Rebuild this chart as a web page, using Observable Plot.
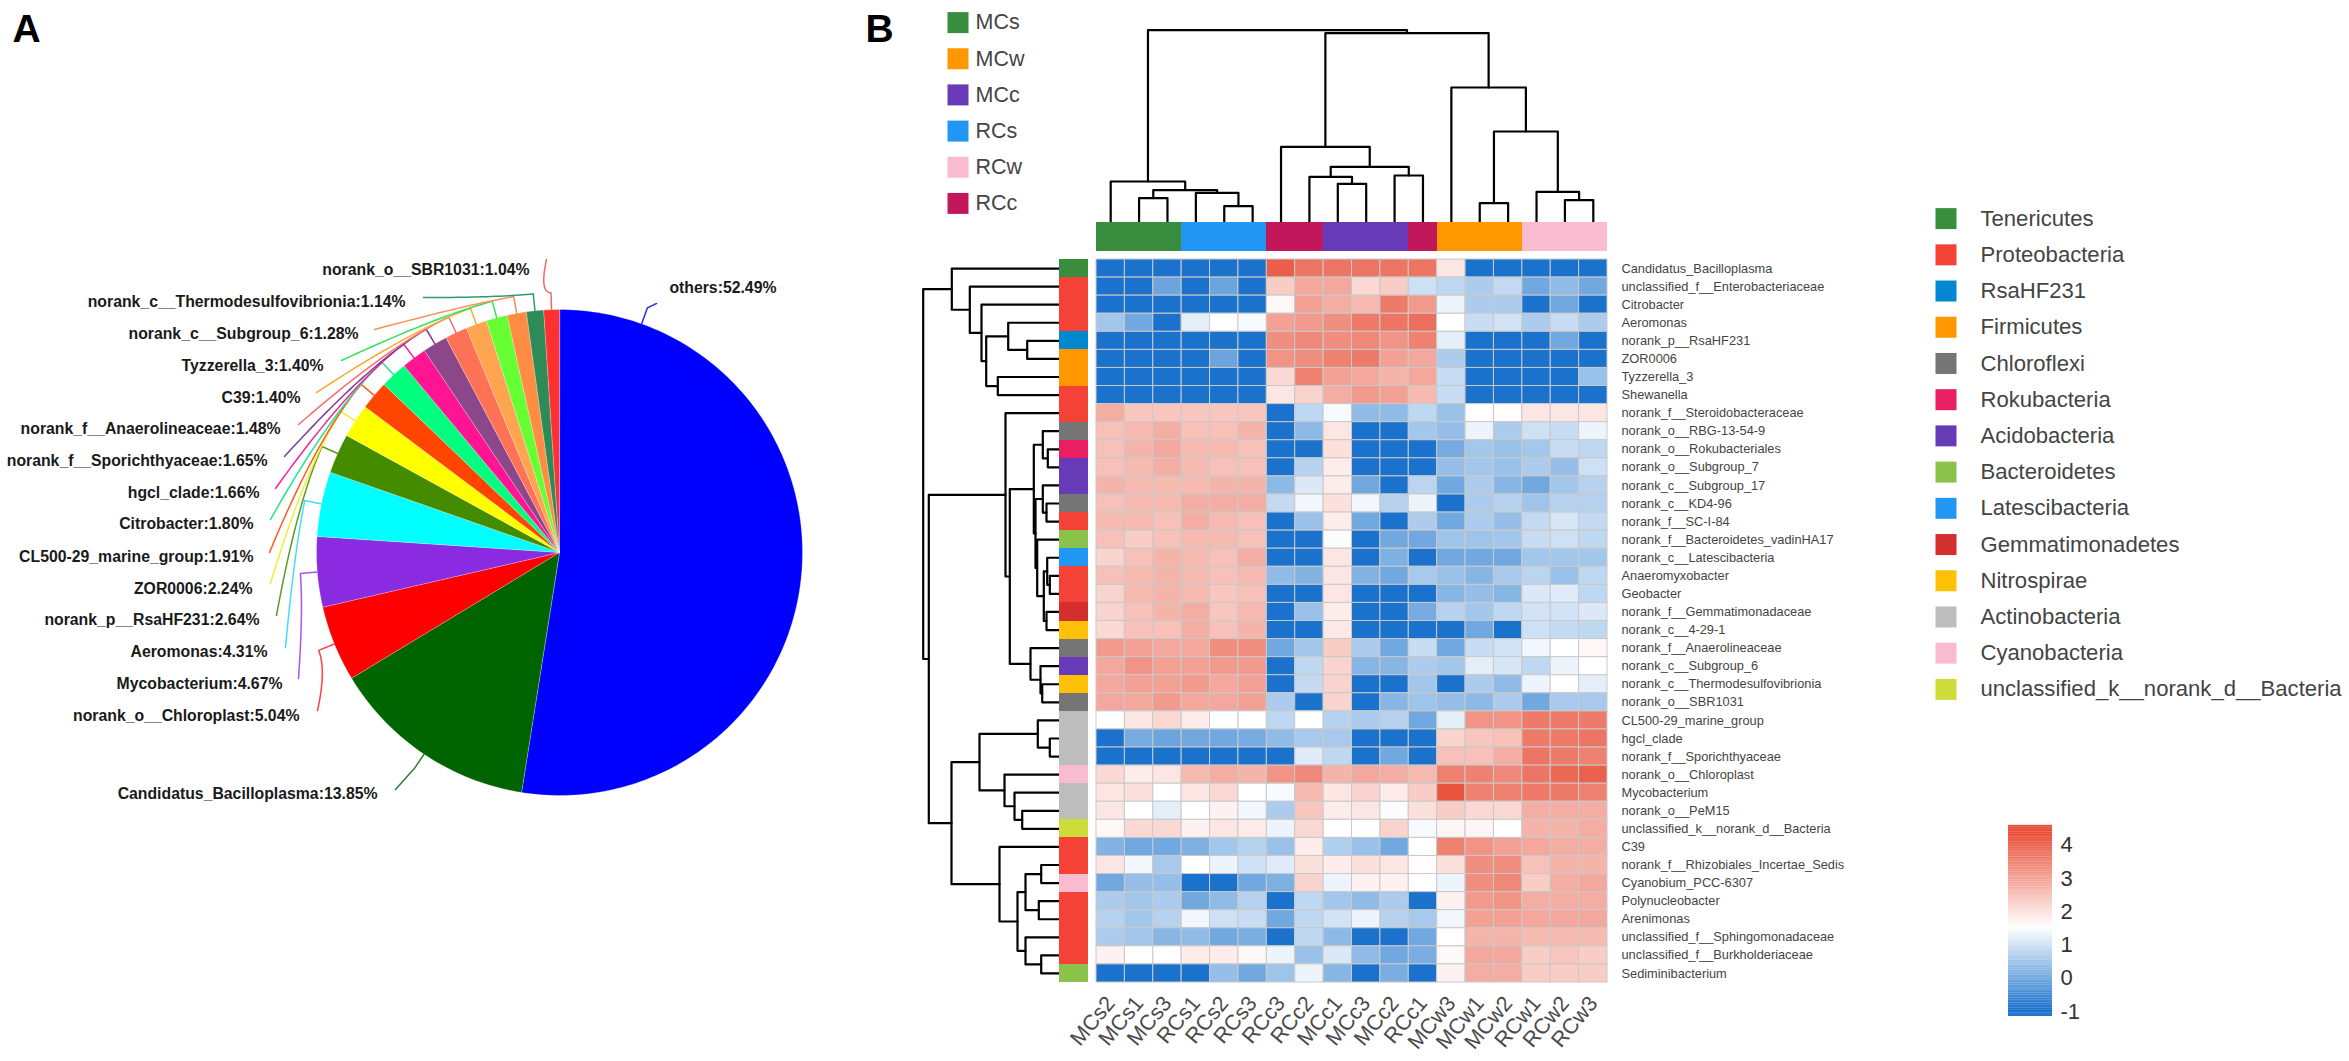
<!DOCTYPE html>
<html><head><meta charset="utf-8">
<script src="https://cdn.jsdelivr.net/npm/d3@7"></script>
<script src="https://cdn.jsdelivr.net/npm/@observablehq/plot@0.6"></script>
<style>
html,body{margin:0;padding:0;background:#fff}
#fig{position:relative;width:2349px;height:1061px;overflow:hidden;background:#fff}
#fig svg{position:absolute;background:transparent;overflow:visible}
</style></head><body><div id="fig"></div>
<script>
// ---------- panel A data ----------
const pieNames = ["others","Candidatus_Bacilloplasma","norank_o__Chloroplast","Mycobacterium","Aeromonas","norank_p__RsaHF231","ZOR0006","CL500-29_marine_group","Citrobacter","hgcl_clade","norank_f__Sporichthyaceae","norank_f__Anaerolineaceae","C39","Tyzzerella_3","norank_c__Subgroup_6","norank_c__Thermodesulfovibrionia","norank_o__SBR1031"];
const pieValues = [52.49,13.85,5.04,4.67,4.31,2.64,2.24,1.91,1.80,1.66,1.65,1.48,1.40,1.40,1.28,1.14,1.04];
const pieColors = ["#0000ff","#006400","#ff0000","#8a2be2","#00ffff","#458b00","#ffff00","#ff4500","#00ff7f","#ff1493","#8b4789","#ff7256","#ffa54f","#66ff33","#ff8c42","#2e8b57","#ff3030"];
const leaderColors = ["#2b2bee","#2e7d32","#ff4040","#a855f7","#40e0f0","#5f9a1f","#f2f030","#ff5a20","#20e88a","#ff1f9a","#7b3f91","#f47070","#f5ad35","#35e060","#f79055","#2e9b6f","#f06a6a"];
// label layout: right end of text, baseline row, end of leader line
const labelEndX = [776,377,299,282,267,259,252,253,253,259,267,280,300,323,358,405,529];
const labelY    = [287,793,715,683,651,619,588,556,523,492,460,428,397,365,333,301,269];
const leaderEndX= [656,395,317,298,285,276,270,269,270,275,284,298,316,341,374,423,546];
const leaderEndY= [303,789,710,678,647,615,583,552,519,488,456,424,392,360,329,297,259];

// ---------- panel B data ----------
const samples = ["MCs2","MCs1","MCs3","RCs1","RCs2","RCs3","RCc3","RCc2","MCc1","MCc3","MCc2","RCc1","MCw3","MCw1","MCw2","RCw1","RCw2","RCw3"];
const sampleGroup = ["MCs","MCs","MCs","RCs","RCs","RCs","RCc","RCc","MCc","MCc","MCc","RCc","MCw","MCw","MCw","RCw","RCw","RCw"];
const groupNames = ["MCs","MCw","MCc","RCs","RCw","RCc"];
const groupColors = ["#388e3c","#ff9800","#673ab7","#2196f3","#f8bbd0","#c2185b"];
const taxa = ["Candidatus_Bacilloplasma","unclassified_f__Enterobacteriaceae","Citrobacter","Aeromonas","norank_p__RsaHF231","ZOR0006","Tyzzerella_3","Shewanella","norank_f__Steroidobacteraceae","norank_o__RBG-13-54-9","norank_o__Rokubacteriales","norank_o__Subgroup_7","norank_c__Subgroup_17","norank_c__KD4-96","norank_f__SC-I-84","norank_f__Bacteroidetes_vadinHA17","norank_c__Latescibacteria","Anaeromyxobacter","Geobacter","norank_f__Gemmatimonadaceae","norank_c__4-29-1","norank_f__Anaerolineaceae","norank_c__Subgroup_6","norank_c__Thermodesulfovibrionia","norank_o__SBR1031","CL500-29_marine_group","hgcl_clade","norank_f__Sporichthyaceae","norank_o__Chloroplast","Mycobacterium","norank_o__PeM15","unclassified_k__norank_d__Bacteria","C39","norank_f__Rhizobiales_Incertae_Sedis","Cyanobium_PCC-6307","Polynucleobacter","Arenimonas","unclassified_f__Sphingomonadaceae","unclassified_f__Burkholderiaceae","Sediminibacterium"];
const phylumNames = ["Tenericutes","Proteobacteria","RsaHF231","Firmicutes","Chloroflexi","Rokubacteria","Acidobacteria","Bacteroidetes","Latescibacteria","Gemmatimonadetes","Nitrospirae","Actinobacteria","Cyanobacteria","unclassified_k__norank_d__Bacteria"];
const phylumColors = ["#388e3c","#f44336","#0288d1","#ff9800","#757575","#e91e63","#673ab7","#8bc34a","#2196f3","#d32f2f","#ffc107","#bdbdbd","#f8bbd0","#cddc39"];
const taxaPhylum = [0,1,1,1,2,3,3,1,1,4,5,6,6,4,1,7,8,1,1,9,10,4,6,10,4,11,11,11,12,11,11,13,1,1,12,1,1,1,1,7];
const heat = [
[-1,-1,-1,-1,-1,-1,4.05,3.7,3.7,3.7,3.7,3.7,1.9,-1,-1,-1,-1,-1],
[-1,-1,-0.1,-1,-0.1,-1,2.3,2.9,2.9,2.1,2.3,0.95,0.8,0.6,0.85,-0.05,0.3,-0.05],
[-1,-1,-1,-1,-1,-1,1.6,3.0,2.8,2.6,3.6,3.1,1.3,0.6,0.6,-1,-0.05,-1],
[0.5,-0.05,-1,1.2,1.5,1.4,3.0,3.1,3.3,3.6,3.7,3.8,1.5,0.9,1.0,0.6,0.9,0.6],
[-1,-1,-1,-1,-1,-1,3.3,3.4,3.3,3.4,3.2,3.5,1.2,-1,-1,-1,-0.05,-1],
[-1,-1,-1,-1,-0.1,-1,3.2,3.3,3.5,3.6,3.0,2.9,0.6,-1,-1,-1,-1,-1],
[-1,-1,-1,-1,-1,-1,2.1,3.5,3.0,2.9,2.7,2.9,0.9,-1,-1,-1,-1,0.4],
[-1,-1,-1,-1,-1,-1,1.9,2.2,2.8,3.1,3.0,2.6,0.9,-1,-1,-1,-1,-1],
[2.8,2.4,2.4,2.4,2.4,2.4,-1,0.8,1.4,0.3,0.3,0.8,0.4,1.5,1.55,1.9,1.9,1.9],
[2.5,2.6,2.8,2.5,2.5,2.7,-1,0.25,1.9,-1,-1,0.5,0.35,1.3,0.6,0.95,0.9,1.3],
[2.5,2.7,2.9,2.6,2.6,2.5,-1,-1,2.0,-1,-1,-1,0,0.5,0.4,0.5,0.9,0.8],
[2.5,2.6,2.8,2.6,2.5,2.5,-1,0.7,1.8,-1,-1,-1,0.35,0.5,0.4,0.6,0.35,0.95],
[2.7,2.6,2.6,2.6,2.7,2.7,0.25,1.1,1.8,-0.05,-1,0.75,-0.05,0.6,0.2,-0.05,0.5,0.7],
[2.5,2.6,2.6,2.8,2.8,2.8,0.85,1.35,2.0,1.35,0.7,1.3,-1,0.6,0.7,0.45,0.7,0.7],
[2.6,2.6,2.5,2.8,2.6,2.5,-1,0.4,1.8,-0.05,-1,0.6,-0.05,0.6,0.35,0.85,1.05,0.85],
[2.5,2.3,2.5,2.6,2.6,2.5,-1,-1,1.45,-1,-0.05,-0.05,0.45,0.45,0.5,0.9,0.95,0.8],
[2.2,2.5,2.7,2.6,2.5,2.8,-1,-1,1.9,-1,0.1,-1,-0.05,-0.05,-0.05,0.5,0.5,0.5],
[2.5,2.6,2.7,2.6,2.5,2.6,0.3,0.15,1.9,0.15,-0.05,0.55,0.4,0.2,0.55,0.75,0.4,0.8],
[2.2,2.6,2.7,2.6,2.4,2.5,-1,-1,1.9,-1,-1,-1,0.2,0.35,0.2,1.1,1.15,0.8],
[2.2,2.5,2.7,2.8,2.4,2.6,-1,0.4,1.8,-1,-1,0,0.7,0.5,0.8,1.0,1.0,1.1],
[2.1,2.5,2.5,2.8,2.5,2.7,-1,-1,1.85,-1,-1,-1,-1,-0.05,-1,0.95,0.85,0.8],
[3.1,3.0,2.9,2.9,3.3,3.3,-0.05,0.5,2.3,0.6,-0.05,0.9,-0.05,0.9,1.0,1.35,1.5,1.6],
[2.9,3.2,3.0,3.0,3.1,3.1,-1,0.8,2.2,0.2,0.2,0.6,0.5,1.2,1.05,0.8,1.3,1.5],
[2.9,3.0,3.0,3.1,2.9,3.0,-1,0.85,2.2,-1,-1,0.5,-1,0.6,0.3,1.3,1.5,1.2],
[2.9,2.9,3.1,2.9,2.9,3.0,0.6,-1,2.2,-1,0.2,0.45,0.35,0.25,0.6,-0.05,0.55,0.55],
[1.5,1.9,2.1,1.8,1.5,1.5,0.8,1.5,0.7,0.6,0.7,-0.05,1.2,3.2,3.2,3.6,3.6,3.6],
[-1,0,-0.1,-0.05,-0.05,0,0.3,0.55,0.55,-1,-1,-1,2.2,2.4,2.5,3.6,3.6,3.7],
[-1,-1,-1,-1,-1,-1,-1,1.15,0.8,-1,-0.05,-1,2.5,2.5,2.8,3.7,3.6,3.5],
[2.1,1.8,1.9,2.6,2.8,2.7,3.2,3.4,2.7,2.9,2.8,2.6,3.5,3.5,3.4,3.7,3.9,4.0],
[1.9,2.0,1.5,1.9,2.1,1.5,1.4,2.6,1.9,2.2,1.8,2.3,4.2,3.5,3.5,3.6,3.6,3.5],
[1.9,1.5,1.2,1.5,1.7,1.35,0.6,2.4,1.8,1.9,1.45,2.0,2.3,2.1,2.1,2.8,2.8,2.8],
[1.6,2.1,2.1,1.7,1.9,1.8,1.3,2.1,1.5,1.5,2.2,1.4,1.65,1.65,1.5,2.7,2.7,2.8],
[0.15,-0.05,-0.05,0.1,0.5,0.7,0.4,1.8,0.65,0.4,-0.05,1.5,3.5,3.2,3.0,2.9,2.8,2.8],
[1.9,1.35,0.55,1.5,1.3,0.95,1.15,2.0,1.8,2.0,1.9,1.55,2.0,3.3,3.3,2.5,2.7,2.7],
[-0.05,0.35,0.35,-1,-1,-0.05,0.1,2.2,1.3,1.7,1.7,1.5,1.3,3.3,3.4,2.3,2.8,2.9],
[0.6,0.5,0.6,-0.05,0.3,0.7,-1,0.8,0.5,0.3,0.6,-1,1.7,3.1,3.2,2.8,2.8,2.8],
[0.7,0.5,0.7,1.35,0.95,0.9,-0.05,0.8,1.0,1.3,0.7,0.55,1.35,3.0,3.0,2.9,2.9,2.9],
[0.6,0.5,0.2,0.3,-0.05,0.05,-1,0.8,0.25,-1,-1,-0.05,1.5,2.7,2.7,2.6,2.6,2.6],
[1.7,1.5,1.5,1.8,1.8,1.6,1.3,0.4,1.1,0.3,-0.05,0.05,1.6,2.9,2.9,2.3,2.4,2.3],
[-1,-1,-1,-1,0.35,-0.05,0.45,1.3,0.2,-1,0.05,-1,1.7,2.8,2.8,2.3,2.3,2.3]
];
// dendrograms: [child a, child b, merge distance]; ids >= leaf count are earlier merges
const sampleMerges = [[1,2,24.3],[4,5,16.3],[3,19,29.7],[18,20,32.3],[0,21,41],[8,9,38.7],[7,23,45.7],[10,11,47],[24,25,55.7],[6,26,75.7],[13,14,19.3],[16,17,22.3],[15,29,30.7],[28,30,91],[12,31,135],[27,32,189.3],[22,33,192.3]];
const taxaMerges = [[4,5,32.3],[3,40,51.3],[6,7,61.7],[41,42,73.3],[2,43,78],[1,44,89.7],[0,45,107.7],[10,11,11.7],[9,47,16.7],[13,14,13],[12,49,16.7],[17,18,9.7],[16,51,12.3],[19,20,13],[52,53,15.7],[15,54,22.3],[50,55,24],[48,56,25.7],[23,24,17.3],[22,58,19],[21,59,29],[57,60,49.7],[8,61,54],[26,27,9.7],[25,63,21.7],[30,31,37.3],[29,65,45],[28,66,55],[64,67,80],[33,34,18.3],[35,36,20.7],[69,70,34],[38,39,18.3],[37,72,34],[71,73,42],[32,74,60],[68,75,108],[62,76,130.7],[46,77,136.3]];
const colorTicks = [-1,0,1,2,3,4];

// ---------- helpers ----------
const fig = document.getElementById("fig");
const FONT = "'Liberation Sans', Arial, sans-serif";
const place = (svg,left,top)=>{svg.style.left=left+"px";svg.style.top=top+"px";fig.appendChild(svg);};
const heatColor = {type:"linear",domain:[-1,1.5,4.3],range:["#1a72cc","#ffffff","#e84f38"],interpolate:"rgb",clamp:true};

function dendroLines(merges,n){
  const pos=d3.range(n).map(i=>i+0.5), ht=d3.range(n).map(()=>0), out=[];
  merges.forEach(([a,b,h],k)=>{
    out.push({k,p:pos[a],h:ht[a]},{k,p:pos[a],h},{k,p:pos[b],h},{k,p:pos[b],h:ht[b]});
    pos[n+k]=(pos[a]+pos[b])/2; ht[n+k]=h;
  });
  return out;
}

// ---------- Panel A: pie ----------
const cx=559, cy=552, R=243;
const arcs = d3.pie().sort(null).value(d=>d)(pieValues);
const wedgePts = arcs.flatMap((a,i)=>{
  const steps=Math.max(2,Math.ceil((a.endAngle-a.startAngle)/0.02));
  const pts=[{name:pieNames[i],x:cx,y:cy}];
  for(let s=0;s<=steps;s++){const t=a.startAngle+(a.endAngle-a.startAngle)*s/steps;
    pts.push({name:pieNames[i],x:cx+R*Math.sin(t),y:cy-R*Math.cos(t)});}
  return pts;
});
const leaderPts = arcs.flatMap((a,i)=>{
  const ang = i===0 ? 0.345 : (a.startAngle+a.endAngle)/2;
  const rx=Math.sin(ang), ry=-Math.cos(ang);
  const P0=[cx+R*rx,cy+R*ry], P1=[cx+(R+17)*rx,cy+(R+17)*ry], E=[leaderEndX[i],leaderEndY[i]];
  const tx=ry, ty=-rx, dx=E[0]-P1[0], dy=E[1]-P1[1], dist=Math.hypot(dx,dy);
  const tang=(tx*dx+ty*dy)>0 && i!==0;
  const C= tang ? [P1[0]+tx*dist*0.35,P1[1]+ty*dist*0.35] : P1;
  const pts=[{name:pieNames[i],x:P0[0],y:P0[1]},{name:pieNames[i],x:P1[0],y:P1[1]}];
  for(let s=1;s<=24;s++){const u=s/24,v=1-u;
    pts.push({name:pieNames[i],x:v*v*P1[0]+2*u*v*C[0]+u*u*E[0],y:v*v*P1[1]+2*u*v*C[1]+u*u*E[1]});}
  return pts;
});
const sliceLabels = pieNames.map((n,i)=>({t:`${n}:${pieValues[i].toFixed(2)}%`,x:labelEndX[i],y:labelY[i]}));
place(Plot.plot({
  width:900,height:1061,margin:0,
  style:{fontFamily:FONT,background:"transparent"},
  x:{domain:[0,900],range:[0,900],axis:null},
  y:{domain:[0,1061],range:[0,1061],axis:null},
  color:{type:"ordinal",domain:pieNames,range:pieColors},
  marks:[
    Plot.line(wedgePts,{x:"x",y:"y",z:"name",fill:"name",stroke:"#ffffff",strokeOpacity:0.35,strokeWidth:0.8,curve:"linear-closed"}),
    ...pieNames.map((n,i)=>Plot.line(leaderPts.filter(d=>d.name===n),{x:"x",y:"y",stroke:leaderColors[i],strokeWidth:1.5})),
    Plot.text(sliceLabels,{x:"x",y:"y",text:"t",textAnchor:"end",fontFamily:FONT,fontWeight:"bold",fontSize:15.8,fill:"#1a1a1a"}),
    Plot.text([{t:"A",x:12,y:29}],{x:"x",y:"y",text:"t",textAnchor:"start",fontFamily:FONT,fontWeight:"bold",fontSize:39,fill:"#000"}),
    Plot.text([{t:"B",x:865,y:29}],{x:"x",y:"y",text:"t",textAnchor:"start",fontFamily:FONT,fontWeight:"bold",fontSize:39,fill:"#000"})
  ]
}),0,0);

// ---------- Panel B geometry ----------
const hmL=1096,hmT=259,hmW=511,hmH=723;

// column dendrogram
place(Plot.plot({
  width:hmW,height:222,margin:0,
  x:{domain:[0,18],range:[0,hmW],axis:null},
  y:{domain:[0,222],range:[222,0],axis:null},
  marks:[Plot.line(dendroLines(sampleMerges,18),{x:"p",y:"h",z:"k",stroke:"#000",strokeWidth:2.2,strokeLinejoin:"round",strokeLinecap:"round"})]
}),hmL,0);

// column annotation
place(Plot.plot({
  width:hmW,height:29,margin:0,
  x:{domain:samples,padding:0,round:false,axis:null},
  color:{type:"ordinal",domain:groupNames,range:groupColors},
  marks:[Plot.cell(samples,{x:d=>d,fill:(d,i)=>sampleGroup[i],shapeRendering:"crispEdges"})]
}),hmL,222);

// row dendrogram
place(Plot.plot({
  width:140,height:hmH,margin:0,
  x:{domain:[140,0],range:[0,140],axis:null},
  y:{domain:[0,40],range:[0,hmH],axis:null},
  marks:[Plot.line(dendroLines(taxaMerges,40),{x:"h",y:"p",z:"k",stroke:"#000",strokeWidth:2.2,strokeLinejoin:"round",strokeLinecap:"round"})]
}),919,hmT);

// row annotation
place(Plot.plot({
  width:29,height:hmH,margin:0,
  y:{domain:taxa,padding:0,round:false,axis:null},
  color:{type:"ordinal",domain:phylumNames,range:phylumColors},
  marks:[Plot.cell(taxa,{y:d=>d,fill:(d,i)=>phylumNames[taxaPhylum[i]],shapeRendering:"crispEdges"})]
}),1059,hmT);

// heatmap with axes
const cells = taxa.flatMap((t,r)=>samples.map((s,c)=>({taxon:t,sample:s,v:heat[r][c]})));
place(Plot.plot({
  width:hmW+340,height:hmH+90,marginLeft:0,marginTop:0,marginRight:340,marginBottom:90,
  style:{fontFamily:FONT,background:"transparent"},
  x:{domain:samples,padding:0,round:false,label:null},
  y:{domain:taxa,padding:0,round:false,label:null},
  color:heatColor,
  marks:[
    Plot.cell(cells,{x:"sample",y:"taxon",fill:"v",stroke:"#c9c9c9",strokeWidth:1}),
    Plot.axisX({anchor:"bottom",tickSize:0,tickPadding:17,tickRotate:-50,fontSize:21.5,fontFamily:FONT,fill:"#4a4a4a",label:null}),
    Plot.axisY({anchor:"right",tickSize:0,tickPadding:14,fontSize:12.8,fontFamily:FONT,fill:"#444",label:null,textAnchor:"start",lineWidth:40})
  ]
}),hmL,hmT);

// group legend
place(Plot.plot({
  width:120,height:217,margin:0,
  style:{fontFamily:FONT,background:"transparent"},
  x:{domain:[0,120],range:[0,120],axis:null},
  y:{type:"band",domain:groupNames,range:[0,217],padding:0,round:false,axis:null},
  color:{type:"ordinal",domain:groupNames,range:groupColors},
  marks:[
    Plot.dot(groupNames,{x:()=>10.5,y:d=>d,symbol:"square",r:11.85,fill:d=>d}),
    Plot.text(groupNames,{x:()=>28,y:d=>d,text:d=>d,textAnchor:"start",fontFamily:FONT,fontSize:21.5,fill:"#444"})
  ]
}),947,4);

// phylum legend
place(Plot.plot({
  width:410,height:507,margin:0,
  style:{fontFamily:FONT,background:"transparent"},
  x:{domain:[0,410],range:[0,410],axis:null},
  y:{type:"band",domain:phylumNames,range:[0,507],padding:0,round:false,axis:null},
  color:{type:"ordinal",domain:phylumNames,range:phylumColors},
  marks:[
    Plot.dot(phylumNames,{x:()=>10.5,y:d=>d,symbol:"square",r:11.85,fill:d=>d}),
    Plot.text(phylumNames,{x:()=>45,y:d=>d,text:d=>d,textAnchor:"start",fontFamily:FONT,fontSize:22.1,fill:"#444"})
  ]
}),1935,200);

// colour bar
const ramp = d3.range(-1.15,4.57,0.05);
place(Plot.plot({
  width:90,height:190,marginLeft:0,marginRight:46,marginTop:0,marginBottom:0,
  style:{fontFamily:FONT,background:"transparent"},
  x:{domain:[0,1],axis:null},
  y:{domain:[-1.15,4.57],range:[190,0],label:null},
  color:heatColor,
  marks:[
    Plot.rect(ramp,{x1:()=>0,x2:()=>1,y1:d=>d,y2:d=>d+0.055,fill:d=>d}),
    Plot.axisY(colorTicks,{anchor:"right",tickSize:0,tickPadding:8,fontSize:22,fontFamily:FONT,fill:"#333",label:null,tickFormat:d=>String(d)})
  ]
}),2008,826);
</script></body></html>
